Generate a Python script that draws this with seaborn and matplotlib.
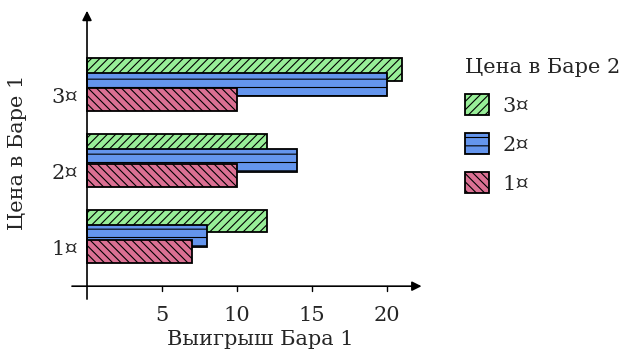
import numpy as np
import pandas as pd
import matplotlib
matplotlib.use("Agg")
import matplotlib.pyplot as plt
import seaborn as sns
from matplotlib.patches import Patch

sns.set_style("white")
plt.rcParams['font.family'] = ['DejaVu Serif']

# Data
bar1_prices = [1, 2, 3]
bar1_labels = ["1¤", "2¤", "3¤"]
series_names = ["3¤", "2¤", "1¤"]          # price in bar 2
payoff_3 = [12, 12, 21]
payoff_2 = [8, 14, 20]
payoff_1 = [7, 10, 10]
x_ticks = [5, 10, 15, 20]

colors = {"3¤": "#98ee98", "2¤": "#6495ed", "1¤": "#db7093"}
hatches = {"3¤": "////", "2¤": "--", "1¤": "\\\\\\\\"}
offsets = {"3¤": 0.2, "2¤": 0.0, "1¤": -0.2}
values = {"3¤": payoff_3, "2¤": payoff_2, "1¤": payoff_1}

plt.rcParams['hatch.linewidth'] = 0.8
FS = 15

fig = plt.figure(figsize=(6.41, 3.55), dpi=100)
ax = fig.add_axes([60/641, 1 - 305/355, 365/641, 295/355])

for name in series_names:
    df = pd.DataFrame({"x": values[name],
                       "y": np.array(bar1_prices, dtype=float) + offsets[name]})
    n_before = len(ax.patches)
    sns.barplot(data=df, x="x", y="y", orient="y", native_scale=True,
                width=0.3, color=colors[name], saturation=1,
                edgecolor="black", linewidth=1.3, ax=ax)
    for p in ax.patches[n_before:]:
        p.set_hatch(hatches[name])
        p.set_facecolor(colors[name])
        p.set_edgecolor("black")

ax.set_xlim(-1.8, 22.53)
ax.set_ylim(0.092, 3.98)

for s in ax.spines.values():
    s.set_visible(False)

axis_y = 0.34
# axes with arrows
ax.annotate("", xy=(22.3, axis_y), xytext=(-1.0, axis_y),
            arrowprops=dict(arrowstyle="-|>", color="black", lw=1.2,
                            mutation_scale=14, shrinkA=0, shrinkB=0))
ax.annotate("", xy=(0, 3.97), xytext=(0, 0.17),
            arrowprops=dict(arrowstyle="-|>", color="black", lw=1.2,
                            mutation_scale=14, shrinkA=0, shrinkB=0))

ax.set_xticks([])
ax.set_yticks([])
for t in x_ticks:
    ax.plot([t, t], [axis_y, axis_y - 0.07], color="black", lw=1.0, clip_on=False)
    ax.text(t, axis_y - 35/75.75, str(t), ha="center", va="baseline", fontsize=FS)
for yv, lab in zip(bar1_prices, bar1_labels):
    ax.text(-0.6, yv - 0.245, lab, ha="right", va="baseline", fontsize=FS)

ax.set_xlabel("")
ax.set_ylabel("")
fig.text(260/641, 1 - 345/355, "Выигрыш Бара 1", ha="center", va="baseline", fontsize=FS)
fig.text(18/641, 1 - 152/355, "Цена в Баре 1", ha="center", va="center",
         rotation=90, fontsize=FS)

handles = [Patch(facecolor=colors[n], edgecolor="black", hatch=hatches[n],
                 linewidth=1.3, label=n) for n in series_names]
leg = fig.legend(handles=handles, title="Цена в Баре 2", loc="upper left",
                 bbox_to_anchor=(465/641, 1 - 58/355), frameon=False,
                 fontsize=FS, title_fontsize=FS, handlelength=1.15,
                 handleheight=1.15, alignment="left", labelspacing=0.84,
                 handletextpad=0.65, borderpad=0, borderaxespad=0)

fig.savefig("out.png", dpi=100)
